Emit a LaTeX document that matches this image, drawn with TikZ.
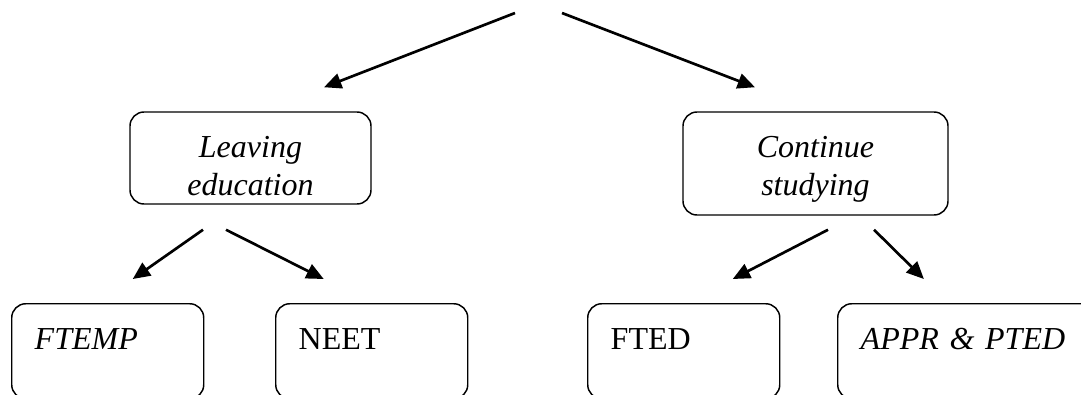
\documentclass[tikz,border=0pt]{standalone}
\usepackage{fontspec}
\setmainfont{Liberation Serif}
\usetikzlibrary{arrows.meta}

\tikzset{
    choice/.style={draw,line width=1.1pt,rounded corners=10.5pt,inner sep=0pt,
        font=\fontsize{24}{28.5}\selectfont\itshape},
    outcome/.style={draw,line width=1.1pt,rounded corners=10.5pt,anchor=north west,
        inner xsep=17.25pt,inner ysep=0pt,text width=109.5pt,align=left,
        text height=34.5pt,text depth=36.75pt,font=\fontsize{24}{28.5}\selectfont},
    arr/.style={line width=2pt,-{Triangle[length=13pt,width=11.5pt]}}
}

\begin{document}
\begin{tikzpicture}[x=0.75pt,y=-0.75pt]
    \useasboundingbox (0,0) rectangle (1081,394);
    \coordinate (root) at (538.5,13);
    % second level
    \node[choice,minimum width=180.75pt,text height=33.75pt,text depth=35.25pt] (leave) at (250.5,158)
        {\begin{tabular}[t]{@{}c@{}}Leaving\\education\end{tabular}};
    \node[choice,minimum width=198.75pt,text height=33.75pt,text depth=43.5pt] (cont) at (815.5,163.5)
        {\begin{tabular}[t]{@{}c@{}}Continue\\studying\end{tabular}};
    % outcomes
    \node[outcome] (ftemp) at (11,303) {\textit{FTEMP}};
    \node[outcome] (neet) at (275,303) {NEET};
    \node[outcome] (fted) at (587,303) {FTED};
    \node[outcome,text width=175pt] (appr) at (837,303) {\textit{APPR \& PTED}};
    % arrows
    \draw[arr] ([shift={(-23.5,0)}]root) -- ([shift={(73.5,-24)}]leave.north);
    \draw[arr] ([shift={(23.5,0)}]root) -- ([shift={(-60.5,-24)}]cont.north);
    \draw[arr] ([shift={(-47.5,25)}]leave.south) -- ([shift={(25,-24)}]ftemp.north);
    \draw[arr] ([shift={(-24.5,25)}]leave.south) -- ([shift={(-48,-24)}]neet.north);
    \draw[arr] ([shift={(12.5,14)}]cont.south) -- ([shift={(49,-24)}]fted.north);
    \draw[arr] ([shift={(58.5,14)}]cont.south) -- ([shift={(-53.5,-24)}]appr.north);
\end{tikzpicture}
\end{document}
